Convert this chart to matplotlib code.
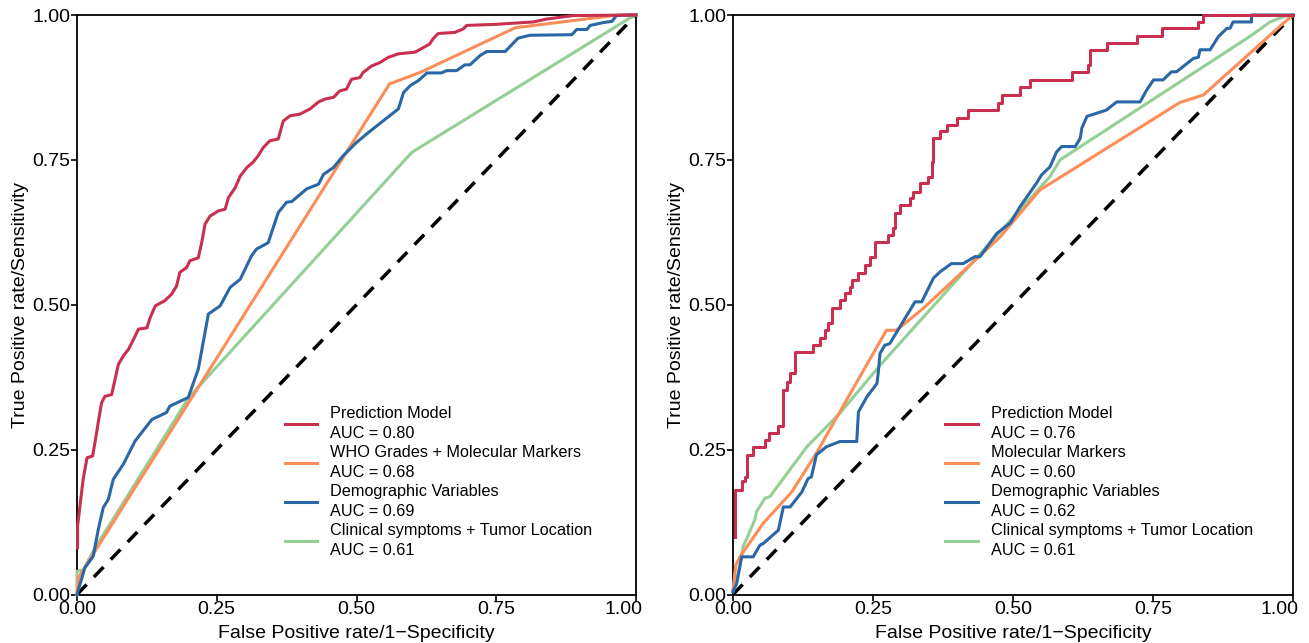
import matplotlib
matplotlib.use("Agg")
import matplotlib.pyplot as plt
from matplotlib.transforms import ScaledTranslation

plt.rcParams['font.family'] = ['Liberation Sans', 'DejaVu Sans']

# ---------------- Data ----------------
# Left panel
L_pred_fpr = [0.001, 0.001, 0.005, 0.011, 0.018, 0.028, 0.034, 0.038, 0.044, 0.050, 0.062, 0.068, 0.074,
              0.083, 0.092, 0.101, 0.110, 0.125, 0.131, 0.140, 0.157, 0.169, 0.178, 0.184, 0.196, 0.202, 0.217,
              0.223, 0.229, 0.238, 0.253, 0.265, 0.271, 0.283, 0.292, 0.304, 0.315, 0.324, 0.333, 0.345, 0.360,
              0.369, 0.381, 0.399, 0.417, 0.432, 0.444, 0.459, 0.470, 0.482, 0.491, 0.506, 0.512, 0.527, 0.542,
              0.557, 0.575, 0.605, 0.620, 0.631, 0.637, 0.646, 0.676, 0.691, 0.697, 0.751, 0.816, 0.840, 0.888, 1.0]
L_pred_tpr = [0.081, 0.118, 0.150, 0.199, 0.236, 0.239, 0.273, 0.297, 0.331, 0.342, 0.345, 0.371, 0.397,
              0.412, 0.423, 0.440, 0.458, 0.460, 0.478, 0.498, 0.507, 0.518, 0.532, 0.556, 0.564, 0.576, 0.581,
              0.607, 0.639, 0.653, 0.662, 0.665, 0.685, 0.702, 0.722, 0.737, 0.746, 0.757, 0.771, 0.783, 0.786,
              0.817, 0.826, 0.829, 0.838, 0.850, 0.855, 0.858, 0.869, 0.872, 0.889, 0.892, 0.901, 0.912, 0.918,
              0.927, 0.933, 0.936, 0.944, 0.950, 0.959, 0.968, 0.970, 0.976, 0.982, 0.984, 0.988, 0.993, 0.999, 1.0]

L_who_fpr = [0.0, 0.003, 0.559, 0.614, 0.784, 0.968, 1.0]
L_who_tpr = [0.0, 0.030, 0.881, 0.901, 0.978, 1.0, 1.0]

L_demo_fpr = [0.0, 0.014, 0.029, 0.038, 0.047, 0.056, 0.065, 0.083, 0.104, 0.134, 0.160, 0.166, 0.199, 0.217,
              0.235, 0.256, 0.274, 0.292, 0.312, 0.321, 0.342, 0.360, 0.375, 0.384, 0.411, 0.432, 0.441, 0.459,
              0.476, 0.500, 0.521, 0.575, 0.584, 0.596, 0.611, 0.626, 0.652, 0.661, 0.679, 0.694, 0.703, 0.721,
              0.733, 0.766, 0.789, 0.810, 0.885, 0.894, 0.912, 0.918, 0.942, 0.957, 0.965, 0.989, 1.0]
L_demo_tpr = [0.0, 0.046, 0.066, 0.112, 0.150, 0.164, 0.199, 0.225, 0.265, 0.302, 0.314, 0.325, 0.340, 0.389,
              0.484, 0.498, 0.530, 0.544, 0.584, 0.596, 0.607, 0.659, 0.677, 0.678, 0.700, 0.708, 0.725, 0.737,
              0.757, 0.780, 0.797, 0.838, 0.866, 0.878, 0.887, 0.900, 0.900, 0.904, 0.904, 0.914, 0.914, 0.930,
              0.937, 0.937, 0.960, 0.965, 0.966, 0.975, 0.975, 0.982, 0.987, 0.989, 0.999, 1.0, 1.0]

L_clin_fpr = [0.0, 0.0, 0.012, 0.029, 0.200, 0.599, 0.986, 1.0]
L_clin_tpr = [0.0, 0.040, 0.043, 0.075, 0.340, 0.763, 0.993, 1.0]

# Right panel
R_pred_fpr = [0.004, 0.004, 0.0155, 0.0214, 0.0244, 0.0363, 0.057, 0.065, 0.081, 0.0899, 0.0958, 0.1018, 0.1107,
              0.1435, 0.155, 0.164, 0.170, 0.176, 0.191, 0.200, 0.209, 0.213, 0.224, 0.236, 0.245, 0.254, 0.277,
              0.286, 0.289, 0.298, 0.316, 0.322, 0.334, 0.349, 0.355, 0.358, 0.369, 0.382, 0.400, 0.420, 0.474,
              0.480, 0.5125, 0.530, 0.605, 0.634, 0.6375, 0.667, 0.721, 0.766, 0.831, 0.840, 1.0]
R_pred_tpr = [0.100, 0.180, 0.195, 0.203, 0.241, 0.255, 0.267, 0.278, 0.290, 0.353, 0.367, 0.382, 0.419,
              0.430, 0.442, 0.456, 0.468, 0.494, 0.508, 0.520, 0.531, 0.543, 0.554, 0.569, 0.583, 0.609, 0.620,
              0.632, 0.658, 0.672, 0.684, 0.695, 0.710, 0.721, 0.747, 0.787, 0.799, 0.810, 0.822, 0.836, 0.849,
              0.862, 0.876, 0.888, 0.902, 0.914, 0.940, 0.951, 0.963, 0.977, 0.988, 1.0, 1.0]

R_mol_fpr = [0.0, 0.005, 0.0125, 0.054, 0.105, 0.149, 0.203, 0.274, 0.292, 0.340, 0.477, 0.548, 0.798, 0.840, 0.983, 1.0]
R_mol_tpr = [0.008, 0.051, 0.065, 0.123, 0.177, 0.244, 0.336, 0.456, 0.456, 0.494, 0.617, 0.698, 0.849, 0.862, 0.986, 1.0]

R_demo_fpr = [0.0, 0.0066, 0.0155, 0.036, 0.048, 0.054, 0.081, 0.0899, 0.102, 0.123, 0.134, 0.140, 0.149, 0.167,
              0.191, 0.221, 0.224, 0.239, 0.257, 0.259, 0.2625, 0.271, 0.280, 0.325, 0.337, 0.358, 0.370, 0.390,
              0.411, 0.432, 0.441, 0.471, 0.495, 0.5125, 0.542, 0.551, 0.566, 0.578, 0.587, 0.611, 0.620, 0.623,
              0.632, 0.667, 0.685, 0.727, 0.739, 0.751, 0.768, 0.783, 0.792, 0.822, 0.831, 0.834, 0.852, 0.867,
              0.882, 0.8875, 0.893, 0.926, 0.926, 1.0]
R_demo_tpr = [0.005, 0.019, 0.065, 0.065, 0.085, 0.088, 0.111, 0.151, 0.151, 0.177, 0.200, 0.203, 0.241, 0.255,
              0.264, 0.264, 0.315, 0.341, 0.364, 0.379, 0.416, 0.430, 0.433, 0.505, 0.505, 0.546, 0.557, 0.571,
              0.571, 0.583, 0.583, 0.623, 0.641, 0.669, 0.710, 0.724, 0.738, 0.764, 0.773, 0.773, 0.787, 0.805,
              0.825, 0.836, 0.850, 0.850, 0.871, 0.888, 0.888, 0.902, 0.902, 0.925, 0.927, 0.940, 0.940, 0.963,
              0.977, 0.977, 0.988, 0.988, 1.0, 1.0]

R_clin_fpr = [0.0, 0.0095, 0.018, 0.039, 0.042, 0.057, 0.066, 0.132, 0.191, 0.263, 0.477, 0.566, 0.584, 0.923, 0.959, 0.986, 1.0]
R_clin_tpr = [0.005, 0.037, 0.082, 0.129, 0.143, 0.166, 0.169, 0.255, 0.313, 0.396, 0.626, 0.721, 0.750, 0.963, 0.988, 0.998, 1.0]

left_labels = ["Prediction Model\nAUC = 0.80",
               "WHO Grades + Molecular Markers\nAUC = 0.68",
               "Demographic Variables\nAUC = 0.69",
               "Clinical symptoms + Tumor Location\nAUC = 0.61"]
right_labels = ["Prediction Model\nAUC = 0.76",
                "Molecular Markers\nAUC = 0.60",
                "Demographic Variables\nAUC = 0.62",
                "Clinical symptoms + Tumor Location\nAUC = 0.61"]

ticks = [0.0, 0.25, 0.5, 0.75, 1.0]
tick_labels = ["0.00", "0.25", "0.50", "0.75", "1.00"]

colors = ["#C9304F", "#FC8D59", "#2A67A6", "#94CF96"]

# ---------------- Figure ----------------
W, H = 1309, 643
fig = plt.figure(figsize=(W / 100, H / 100), dpi=100)

def px_axes(x0, x1, y_top, y_bot):
    return fig.add_axes([x0 / W, (H - y_bot) / H, (x1 - x0) / W, (y_bot - y_top) / H])

axL = px_axes(77, 636, 15, 594.5)
axR = px_axes(733, 1293, 15, 594.5)

def style(ax):
    ax.set_xlim(0, 1)
    ax.set_ylim(0, 1)
    ax.set_xticks(ticks)
    ax.set_yticks(ticks)
    ax.set_xticklabels(tick_labels)
    ax.set_yticklabels(tick_labels)
    ax.tick_params(axis='both', which='major', labelsize=14, length=4, width=1.2,
                   direction='out', colors='black', pad=1)
    # last x tick label nudged left, as in the reference
    lab = ax.get_xticklabels()[-1]
    lab.set_transform(lab.get_transform() + ScaledTranslation(-13 / 100, 0, fig.dpi_scale_trans))
    for s in ax.spines.values():
        s.set_linewidth(1.3)
        s.set_color('black')
    ax.set_xlabel("False Positive rate/1\u2212Specificity", fontsize=14, labelpad=5)
    ax.set_ylabel("True Positive rate/Sensitivity", fontsize=14, labelpad=2)
    ax.plot([0, 1], [0, 1], color='black', lw=2.5, dashes=(4, 3), zorder=1)

lw = 2.2
style(axL)
axL.plot(L_pred_fpr, L_pred_tpr, color=colors[0], lw=lw, label=left_labels[0], zorder=5, clip_on=False)
axL.plot(L_who_fpr, L_who_tpr, color=colors[1], lw=lw, label=left_labels[1], zorder=4, clip_on=False)
axL.plot(L_demo_fpr, L_demo_tpr, color=colors[2], lw=lw, label=left_labels[2], zorder=4, clip_on=False)
axL.plot(L_clin_fpr, L_clin_tpr, color=colors[3], lw=lw, label=left_labels[3], zorder=3, clip_on=False)

style(axR)
axR.plot(R_pred_fpr, R_pred_tpr, color=colors[0], lw=lw, label=right_labels[0], zorder=5,
         drawstyle='steps-post', clip_on=False)
axR.plot(R_mol_fpr, R_mol_tpr, color=colors[1], lw=lw, label=right_labels[1], zorder=4, clip_on=False)
axR.plot(R_demo_fpr, R_demo_tpr, color=colors[2], lw=lw, label=right_labels[2], zorder=4, clip_on=False)
axR.plot(R_clin_fpr, R_clin_tpr, color=colors[3], lw=lw, label=right_labels[3], zorder=3, clip_on=False)

for ax, xa, ya in [(axL, 0.372, 0.325), (axR, 0.379, 0.325)]:
    leg = ax.legend(loc='upper left', bbox_to_anchor=(xa, ya), frameon=False, fontsize=11.7,
                    handlelength=2.0, handletextpad=0.8, labelspacing=0.28, borderpad=0,
                    borderaxespad=0)
    for t in leg.get_texts():
        t.set_linespacing(1.38)

fig.savefig("out.png", dpi=100)
